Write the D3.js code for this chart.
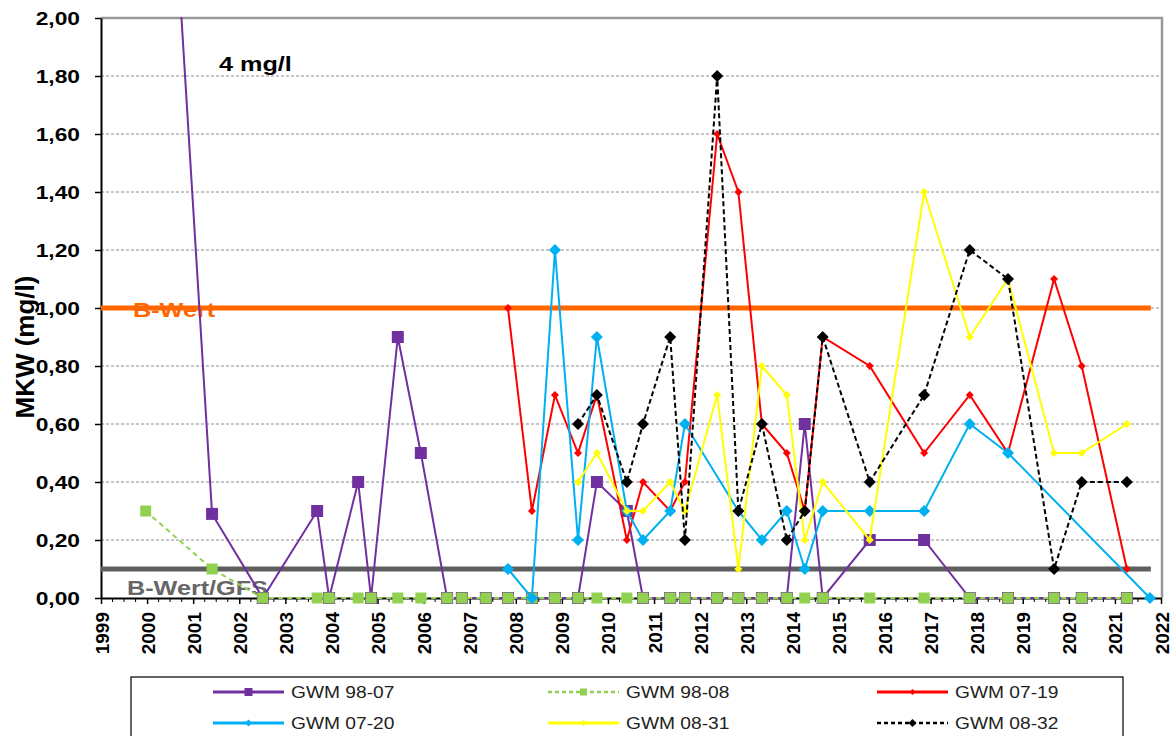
<!DOCTYPE html>
<html>
<head>
<meta charset="utf-8">
<script src="https://cdn.jsdelivr.net/npm/d3@7"></script>
<style>
  body { margin: 0; background: #fff; }
  svg { display: block; font-family: "Liberation Sans", Arial, sans-serif; }
</style>
</head>
<body>
<div id="chart"></div>
<script>
// Probenahmetermine (Dezimaljahr), gemeinsam für alle Messstellen
const dates = [1999.97, 2001.41, 2002.51, 2003.69, 2003.95, 2004.58, 2004.86, 2005.44, 2005.94, 2006.51,
  2006.83, 2007.35, 2007.83, 2008.35, 2008.85, 2009.35, 2009.76, 2010.41, 2010.76, 2011.35,
  2011.67, 2012.37, 2012.83, 2013.34, 2013.88, 2014.27, 2014.66, 2015.68, 2016.86, 2017.85,
  2018.68, 2019.68, 2020.28, 2021.26, 2021.76]

// MKW-Werte in mg/l (null = keine Messung)
const gwm9807 = [4.0, 0.29, 0, 0.3, 0, 0.4, 0, 0.9, 0.5, 0, 0, 0, 0, 0, 0, 0, 0.4, 0.3, 0, 0,
  0, 0, 0, 0, 0, 0.6, 0, 0.2, 0.2, 0, 0, 0, 0, 0, null]
const gwm9808 = [0.3, 0.1, 0, 0, 0, 0, 0, 0, 0, 0, 0, 0, 0, 0, 0, 0, 0, 0, 0, 0,
  0, 0, 0, 0, 0, 0, 0, 0, 0, 0, 0, 0, 0, 0, null]
const gwm0719 = [null, null, null, null, null, null, null, null, null, null, null, null, 1.0, 0.3, 0.7, 0.5, 0.7, 0.2, 0.4, 0.3,
  0.4, 1.6, 1.4, 0.6, 0.5, 0.3, 0.9, 0.8, 0.5, 0.7, 0.5, 1.1, 0.8, 0.1, null]
const gwm0720 = [null, null, null, null, null, null, null, null, null, null, null, null, 0.1, 0, 1.2, 0.2, 0.9, 0.3, 0.2, 0.3,
  0.6, null, 0.3, 0.2, 0.3, 0.1, 0.3, 0.3, 0.3, 0.6, 0.5, null, null, null, 0]
const gwm0831 = [null, null, null, null, null, null, null, null, null, null, null, null, null, null, null, 0.4, 0.5, 0.3, 0.3, 0.4,
  0.3, 0.7, 0.1, 0.8, 0.7, 0.2, 0.4, 0.2, 1.4, 0.9, 1.1, 0.5, 0.5, 0.6, null]
const gwm0832 = [null, null, null, null, null, null, null, null, null, null, null, null, null, null, null, 0.6, 0.7, 0.4, 0.6, 0.9,
  0.2, 1.8, 0.3, 0.6, 0.2, 0.3, 0.9, 0.4, 0.7, 1.2, 1.1, 0.1, 0.4, 0.4, null]

const seriesNames = ['GWM 98-07', 'GWM 98-08', 'GWM 07-19', 'GWM 07-20', 'GWM 08-31', 'GWM 08-32']
const yTicks = [0, 0.2, 0.4, 0.6, 0.8, 1.0, 1.2, 1.4, 1.6, 1.8, 2.0]
const xYears = d3.range(1999, 2023)
const bWert = 1.0
const gfsWert = 0.1
const refSpan = [1999, 2021.78]

const width = 1176
const height = 736
const SX = 1.2 // waagrechte Schrift ist im Original etwas gestreckt

const svg = d3.select('#chart').append('svg')
  .attr('width', width)
  .attr('height', height)

const x = d3.scaleLinear().domain([1999, 2022]).range([101, 1161])
const y = d3.scaleLinear().domain([0, 2]).range([598, 18])
const plotRight = 1162

svg.append('defs').append('clipPath').attr('id', 'clip')
  .append('rect').attr('x', 90).attr('y', 17).attr('width', 1086).attr('height', 620)

// Gitterlinien
svg.append('g').selectAll('line')
  .data(yTicks.filter(v => v > 0 && v < 2))
  .join('line')
  .attr('x1', x(1999)).attr('x2', plotRight)
  .attr('y1', d => y(d)).attr('y2', d => y(d))
  .attr('stroke', '#8c8c8c')
  .attr('stroke-width', 1)
  .attr('stroke-dasharray', '3,2')

// Rahmen oben und rechts
svg.append('path')
  .attr('d', `M${x(1999)},${y(2)}H${plotRight}V${y(0)}`)
  .attr('fill', 'none')
  .attr('stroke', '#999')
  .attr('stroke-width', 2.5)

// y-Achse
const yAxis = svg.append('g')
  .attr('transform', `translate(${x(1999)},0)`)
  .call(d3.axisLeft(y).tickValues(yTicks).tickSize(6).tickSizeOuter(0)
    .tickFormat(d => d3.format('.2f')(d).replace('.', ',')))
yAxis.select('.domain').attr('stroke', '#000').attr('stroke-width', 2)
yAxis.selectAll('.tick line').attr('stroke', '#000').attr('stroke-width', 1.5)
yAxis.selectAll('.tick text')
  .attr('x', 0).attr('dy', '0.36em')
  .attr('transform', `translate(-21,0) scale(${SX},1)`)
  .attr('font-size', 19).attr('font-weight', 'bold').attr('fill', '#000')
  .attr('font-family', '"Liberation Sans", Arial, sans-serif')

// x-Achse mit Quartals-Zwischenstrichen
const minor = d3.range(1999, 2022, 0.25).filter(v => v % 1 !== 0)
svg.append('g').selectAll('line')
  .data(minor)
  .join('line')
  .attr('x1', d => x(d)).attr('x2', d => x(d))
  .attr('y1', y(0)).attr('y2', y(0) + 4)
  .attr('stroke', '#000').attr('stroke-width', 1)

const xAxis = svg.append('g')
  .attr('transform', `translate(0,${y(0)})`)
  .call(d3.axisBottom(x).tickValues(xYears).tickSize(6).tickSizeOuter(0).tickFormat(d3.format('d')))
xAxis.select('.domain').attr('stroke', '#000').attr('stroke-width', 2)
xAxis.selectAll('.tick line').attr('stroke', '#000').attr('stroke-width', 1.5)
xAxis.selectAll('.tick text')
  .attr('x', 0).attr('y', 0).attr('dy', 0)
  .attr('text-anchor', 'end')
  .attr('transform', 'translate(7,14) rotate(-90)')
  .attr('font-size', 19).attr('font-weight', 'bold').attr('fill', '#000')
  .attr('font-family', '"Liberation Sans", Arial, sans-serif')

// y-Achsentitel
svg.append('text')
  .attr('transform', 'translate(34,347) rotate(-90)')
  .attr('text-anchor', 'middle')
  .attr('font-size', 26)
  .attr('font-weight', 'bold')
  .text('MKW (mg/l)')

// Bewertungslinien
const refLine = d3.line().x(d => x(d[0])).y(d => y(d[1]))
svg.append('path')
  .datum(refSpan.map(d => [d, bWert]))
  .attr('d', refLine)
  .attr('stroke', '#ff6600').attr('stroke-width', 5).attr('fill', 'none')
svg.append('path')
  .datum(refSpan.map(d => [d, gfsWert]))
  .attr('d', refLine)
  .attr('stroke', '#5f5f5f').attr('stroke-width', 5).attr('fill', 'none')

function label(txt, px, py, size, color, weight) {
  return svg.append('text')
    .attr('transform', `translate(${px},${py}) scale(${SX},1)`)
    .attr('font-size', size)
    .attr('font-weight', weight)
    .attr('fill', color)
    .text(txt)
}
label('B-Wert', 133, 317, 21, '#ff6600', 'bold')
label('B-Wert/GFS', 127, 595, 21, '#666', 'bold')
label('4 mg/l', 219, 71, 21, '#000', 'bold')

// Marker
function marker(type, r) {
  if (type === 'square') return `M${-r},${-r}h${2 * r}v${2 * r}h${-2 * r}Z`
  return `M0,${-r}L${r},0L0,${r}L${-r},0Z`
}

const series = [
  { name: seriesNames[0], values: gwm9807, color: '#7030a0', dash: null, marker: 'square', r: 6, lr: 4 },
  { name: seriesNames[1], values: gwm9808, color: '#92d050', dash: '5,4', marker: 'square', r: 5.5, lr: 3.5 },
  { name: seriesNames[2], values: gwm0719, color: '#ff0000', dash: null, marker: 'diamond', r: 4, lr: 3 },
  { name: seriesNames[3], values: gwm0720, color: '#00b0f0', dash: null, marker: 'diamond', r: 6, lr: 3.5 },
  { name: seriesNames[4], values: gwm0831, color: '#ffff00', dash: null, marker: 'diamond', r: 4, lr: 3 },
  { name: seriesNames[5], values: gwm0832, color: '#000000', dash: '5,3', marker: 'diamond', r: 6, lr: 4 }
]

const line = d3.line().x(d => x(d[0])).y(d => y(d[1]))
const plot = svg.append('g').attr('clip-path', 'url(#clip)')

series.forEach(s => {
  const pts = dates.map((d, i) => [d, s.values[i]]).filter(p => p[1] !== null)
  const g = plot.append('g')
  g.append('path')
    .datum(pts)
    .attr('d', line)
    .attr('fill', 'none')
    .attr('stroke', s.color)
    .attr('stroke-width', 2)
    .attr('stroke-dasharray', s.dash)
  g.selectAll('path.m')
    .data(pts)
    .join('path')
    .attr('class', 'm')
    .attr('transform', p => `translate(${x(p[0])},${y(p[1])})`)
    .attr('d', marker(s.marker, s.r))
    .attr('fill', s.color)
})

// Legende
svg.append('rect')
  .attr('x', 131).attr('y', 677)
  .attr('width', 992).attr('height', 80)
  .attr('fill', '#fff').attr('stroke', '#000').attr('stroke-width', 1.2)

const legCols = [213, 548, 877]
const legRows = [692, 723]
const leg = svg.append('g').selectAll('g')
  .data(series)
  .join('g')
  .attr('transform', (d, i) => `translate(${legCols[i % 3]},${legRows[Math.floor(i / 3)]})`)
leg.append('line')
  .attr('x1', 0).attr('x2', 71)
  .attr('stroke', d => d.color)
  .attr('stroke-width', d => d.dash ? 2.5 : 3)
  .attr('stroke-dasharray', d => d.dash ? '4,3' : null)
leg.append('path')
  .attr('transform', 'translate(35.5,0)')
  .attr('d', d => marker(d.marker, d.lr))
  .attr('fill', d => d.color)
leg.append('text')
  .attr('transform', `translate(78,0) scale(${SX},1)`)
  .attr('dy', '0.36em')
  .attr('font-size', 16)
  .attr('fill', '#222')
  .text(d => d.name)
</script>
</body>
</html>
